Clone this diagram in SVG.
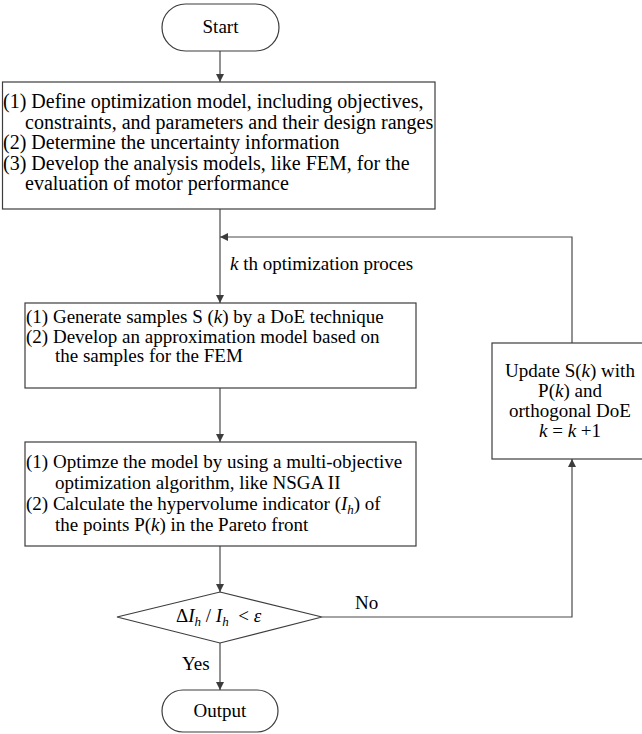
<svg xmlns="http://www.w3.org/2000/svg" width="642" height="734" viewBox="0 0 642 734">
<style>
  .shape { fill: #ffffff; stroke: #3c3c3c; stroke-width: 1.2; }
  .line { fill: none; stroke: #4a4a4a; stroke-width: 1.2; }
  text { font-family: "Liberation Serif", "Times New Roman", serif; font-size: 19px; fill: #000000; }
  .big { font-size: 20px; }
  .c { text-anchor: middle; }
  .i { font-style: italic; }
  .sub { font-size: 13px; font-style: italic; }
</style>
<defs>
  <marker id="arr" viewBox="0 0 10 10" refX="10" refY="5" markerWidth="8" markerHeight="8" markerUnits="userSpaceOnUse" orient="auto">
    <path d="M0,0 L10,5 L0,10 z" fill="#3c3c3c"/>
  </marker>
</defs>
<rect width="642" height="734" fill="#ffffff"/>

<g id="connectors">
  <line class="line" x1="220" y1="51" x2="220" y2="82" marker-end="url(#arr)"/>
  <line class="line" x1="220" y1="209" x2="220" y2="303" marker-end="url(#arr)"/>
  <line class="line" x1="220" y1="388" x2="220" y2="442" marker-end="url(#arr)"/>
  <line class="line" x1="220" y1="546" x2="220" y2="592" marker-end="url(#arr)"/>
  <line class="line" x1="220" y1="643" x2="220" y2="690" marker-end="url(#arr)"/>
  <polyline class="line" points="322,617 572,617 572,459" marker-end="url(#arr)"/>
  <polyline class="line" points="572,343 572,237 220,237" marker-end="url(#arr)"/>
  <text x="355" y="609">No</text>
  <text x="182" y="670">Yes</text>
  <text x="230" y="270"><tspan class="i">k</tspan> th optimization proces</text>
</g>

<g id="start">
  <rect class="shape" x="162" y="4" width="117" height="47" rx="23.5" ry="23.5"/>
  <text class="c" x="220.5" y="33">Start</text>
</g>

<g id="define">
  <rect class="shape" x="2.5" y="82" width="432.5" height="127"/>
  <text class="big" x="3" y="108">(1) Define optimization model, including objectives,</text>
  <text class="big" x="25" y="128.5">constraints, and parameters and their design ranges</text>
  <text class="big" x="3" y="149">(2) Determine the uncertainty information</text>
  <text class="big" x="3" y="169.5">(3) Develop the analysis models, like FEM, for the</text>
  <text class="big" x="25" y="190">evaluation of motor performance</text>
</g>

<g id="generate">
  <rect class="shape" x="25" y="303" width="391" height="85"/>
  <text x="26" y="323">(1) Generate samples S (<tspan class="i">k</tspan>) by a DoE technique</text>
  <text x="26" y="342.5">(2) Develop an approximation model based on</text>
  <text x="55" y="362">the samples for the FEM</text>
</g>

<g id="optimize">
  <rect class="shape" x="25" y="442" width="391" height="104"/>
  <text x="26" y="468">(1) Optimze the model by using a multi-objective</text>
  <text x="55" y="489">optimization algorithm, like NSGA II</text>
  <text x="26" y="510">(2) Calculate the hypervolume indicator (<tspan class="i">I</tspan><tspan class="sub" dy="4">h</tspan><tspan dy="-4">) of</tspan></text>
  <text x="55" y="531">the points P(<tspan class="i">k</tspan>) in the Pareto front</text>
</g>

<g id="update">
  <rect class="shape" x="492" y="343" width="160" height="116"/>
  <text class="c" x="570" y="377">Update S(<tspan class="i">k</tspan>) with</text>
  <text class="c" x="570" y="397">P(<tspan class="i">k</tspan>) and</text>
  <text class="c" x="570" y="417">orthogonal DoE</text>
  <text class="c" x="570" y="437"><tspan class="i">k</tspan> = <tspan class="i">k</tspan> +1</text>
</g>

<g id="decision">
  <polygon class="shape" points="220,592 322,617 220,643 117,617"/>
  <text x="176" y="622">Δ<tspan class="i">I</tspan><tspan class="sub" dy="4">h</tspan><tspan dy="-4"> / </tspan><tspan class="i">I</tspan><tspan class="sub" dy="4">h</tspan><tspan dy="-4" xml:space="preserve">  &lt; </tspan><tspan class="i">ε</tspan></text>
</g>

<g id="output">
  <rect class="shape" x="162" y="690" width="116" height="42" rx="21" ry="21"/>
  <text class="c" x="220" y="717">Output</text>
</g>
</svg>
